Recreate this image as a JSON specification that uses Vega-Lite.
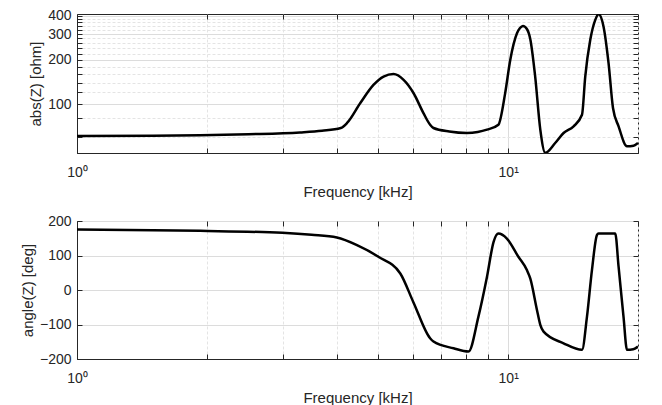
{
  "$schema": "https://vega.github.io/schema/vega-lite/v6.json",
  "padding": {"left": 19, "top": 8, "right": 24, "bottom": 5},
  "background": "white",
  "datasets": {
    "mag": [
      {"f": 1, "z": 60.5}, {"f": 1.5, "z": 60.8}, {"f": 1.93, "z": 61.3}, {"f": 2.5, "z": 62.3},
      {"f": 3.29, "z": 64.1}, {"f": 3.7, "z": 65.8}, {"f": 4.09, "z": 68.7}, {"f": 4.23, "z": 74.3},
      {"f": 4.54, "z": 101.6}, {"f": 4.87, "z": 135}, {"f": 5.14, "z": 154}, {"f": 5.42, "z": 160},
      {"f": 5.72, "z": 146.3}, {"f": 6.03, "z": 119}, {"f": 6.36, "z": 86.8}, {"f": 6.59, "z": 72.3},
      {"f": 6.71, "z": 68.7}, {"f": 7.3, "z": 65}, {"f": 8.02, "z": 63.5}, {"f": 8.5, "z": 64.5},
      {"f": 8.93, "z": 66.9}, {"f": 9.49, "z": 72.3}, {"f": 9.84, "z": 118.8}, {"f": 10.11, "z": 200},
      {"f": 10.48, "z": 304}, {"f": 10.65, "z": 330}, {"f": 10.82, "z": 341}, {"f": 11.05, "z": 325},
      {"f": 11.25, "z": 278}, {"f": 11.55, "z": 154}, {"f": 11.87, "z": 67}, {"f": 12.19, "z": 46.5},
      {"f": 12.85, "z": 54.3}, {"f": 13.44, "z": 63.5}, {"f": 14.18, "z": 70.5}, {"f": 14.83, "z": 84.5},
      {"f": 15.09, "z": 154}, {"f": 15.5, "z": 274}, {"f": 15.92, "z": 375}, {"f": 16.2, "z": 410},
      {"f": 16.64, "z": 337}, {"f": 17.09, "z": 190}, {"f": 17.5, "z": 94}, {"f": 18.03, "z": 70.5},
      {"f": 18.86, "z": 51.5}, {"f": 19.53, "z": 52}, {"f": 20, "z": 54.3}
    ],
    "phase": [
      {"f": 1, "a": 175.3}, {"f": 1.5, "a": 173.5}, {"f": 1.93, "a": 171.5}, {"f": 2.995, "a": 165.7},
      {"f": 3.5, "a": 160}, {"f": 4.005, "a": 152}, {"f": 4.46, "a": 130}, {"f": 5.0, "a": 96.3},
      {"f": 5.62, "a": 48}, {"f": 6.03, "a": -36}, {"f": 6.59, "a": -140}, {"f": 6.71, "a": -149.5},
      {"f": 7.47, "a": -169}, {"f": 8.09, "a": -178.4}, {"f": 8.53, "a": -77.2}, {"f": 8.93, "a": 38.5},
      {"f": 9.25, "a": 139.7}, {"f": 9.49, "a": 163.7}, {"f": 9.93, "a": 149.2}, {"f": 10.56, "a": 96.3},
      {"f": 11.05, "a": 57.8}, {"f": 11.25, "a": 33.5}, {"f": 11.66, "a": -57.8}, {"f": 11.87, "a": -101},
      {"f": 12.08, "a": -120.6}, {"f": 13.44, "a": -154.4}, {"f": 14.83, "a": -173.5}, {"f": 15.23, "a": -77.2},
      {"f": 15.64, "a": 57.8}, {"f": 16.06, "a": 159}, {"f": 16.2, "a": 163.7}, {"f": 17.71, "a": 163.7},
      {"f": 18.03, "a": 67.4}, {"f": 18.51, "a": -77.2}, {"f": 18.86, "a": -173.5}, {"f": 19.5, "a": -171.8},
      {"f": 20, "a": -164}
    ]
  },
  "vconcat": [
    {
      "width": 561,
      "height": 139,
      "data": {"name": "mag"},
      "layer": [
        {
          "mark": {"type": "line", "color": "black", "strokeWidth": 2.5, "clip": true, "interpolate": "monotone"},
          "encoding": {
            "x": {
              "field": "f", "type": "quantitative",
              "scale": {"type": "log", "domain": [1, 20], "nice": false},
              "axis": {
                "orient": "bottom",
                "title": "Frequency [kHz]",
                "values": [1, 2, 3, 4, 5, 6, 7, 8, 9, 10, 20],
                "labelExpr": "datum.value == 1 ? '10⁰' : datum.value == 10 ? '10¹' : ''",
                "labelFlush": false, "labelOverlap": false, "labelBound": false,
                "grid": true,
                "gridDash": {"condition": {"test": "datum.value == 10", "value": []}, "value": [3, 2]},
                "gridColor": {"condition": {"test": "datum.value == 10", "value": "#dcdcdc"}, "value": "#e4e4e4"}
              }
            },
            "y": {
              "field": "z", "type": "quantitative",
              "scale": {"type": "log", "domain": [46.4, 411], "nice": false},
              "axis": {
                "orient": "left",
                "title": "abs(Z) [ohm]",
                "values": [60, 80, 100, 120, 140, 160, 180, 200, 220, 240, 260, 280, 300, 320, 340, 360, 380, 400],
                "labelExpr": "indexof([100, 200, 300, 400], datum.value) >= 0 ? datum.label : ''",
                "labelOverlap": false, "labelBound": false, "labelFlush": false,
                "grid": true,
                "gridDash": {"condition": {"test": "indexof([100, 200, 300, 400], datum.value) >= 0", "value": []}, "value": [3, 2]},
                "gridColor": {"condition": {"test": "indexof([100, 200, 300, 400], datum.value) >= 0", "value": "#dcdcdc"}, "value": "#e4e4e4"}
              }
            }
          }
        },
        {
          "mark": {"type": "line", "strokeOpacity": 0},
          "encoding": {
            "x": {"field": "f", "type": "quantitative", "axis": {"orient": "top", "title": null, "labels": false, "domain": false, "grid": false, "values": [1, 2, 3, 4, 5, 6, 7, 8, 9, 10, 20]}},
            "y": {"field": "z", "type": "quantitative", "axis": {"orient": "right", "title": null, "labels": false, "domain": false, "grid": false, "values": [60, 80, 100, 120, 140, 160, 180, 200, 220, 240, 260, 280, 300, 320, 340, 360, 380, 400]}}
          }
        }
      ],
      "resolve": {"axis": {"x": "independent", "y": "independent"}}
    },
    {
      "width": 561,
      "height": 138,
      "data": {"name": "phase"},
      "layer": [
        {
          "mark": {"type": "line", "color": "black", "strokeWidth": 2.5, "clip": true, "interpolate": "monotone"},
          "encoding": {
            "x": {
              "field": "f", "type": "quantitative",
              "scale": {"type": "log", "domain": [1, 20], "nice": false},
              "axis": {
                "orient": "bottom",
                "title": "Frequency [kHz]",
                "values": [1, 2, 3, 4, 5, 6, 7, 8, 9, 10, 20],
                "labelExpr": "datum.value == 1 ? '10⁰' : datum.value == 10 ? '10¹' : ''",
                "labelFlush": false, "labelOverlap": false, "labelBound": false,
                "grid": true,
                "gridDash": {"condition": {"test": "datum.value == 10", "value": []}, "value": [3, 2]},
                "gridColor": {"condition": {"test": "datum.value == 10", "value": "#dcdcdc"}, "value": "#e4e4e4"}
              }
            },
            "y": {
              "field": "a", "type": "quantitative",
              "scale": {"domain": [-200, 200], "nice": false},
              "axis": {
                "orient": "left",
                "title": "angle(Z) [deg]",
                "values": [-200, -100, 0, 100, 200],
                "labelOverlap": false, "labelBound": false, "labelFlush": false,
                "grid": true, "gridColor": "#dcdcdc"
              }
            }
          }
        },
        {
          "mark": {"type": "line", "strokeOpacity": 0},
          "encoding": {
            "x": {"field": "f", "type": "quantitative", "axis": {"orient": "top", "title": null, "labels": false, "domain": false, "grid": false, "values": [1, 2, 3, 4, 5, 6, 7, 8, 9, 10, 20]}},
            "y": {"field": "a", "type": "quantitative", "axis": {"orient": "right", "title": null, "labels": false, "domain": false, "grid": false, "values": [-200, -100, 0, 100, 200]}}
          }
        }
      ],
      "resolve": {"axis": {"x": "independent", "y": "independent"}}
    }
  ],
  "spacing": 13,
  "config": {
    "font": "Liberation Sans",
    "view": {"stroke": "#262626", "strokeWidth": 1},
    "axis": {
      "domainColor": "#262626",
      "tickColor": "#262626",
      "labelColor": "#262626",
      "titleColor": "#262626",
      "labelFont": "Liberation Sans",
      "titleFont": "Liberation Sans",
      "labelFontSize": 14,
      "titleFontSize": 15,
      "titleFontWeight": "normal",
      "tickSize": -5,
      "gridWidth": 1
    },
    "axisY": {"labelPadding": 11, "titlePadding": 4},
    "axisX": {"labelPadding": 17, "titlePadding": 5}
  }
}
